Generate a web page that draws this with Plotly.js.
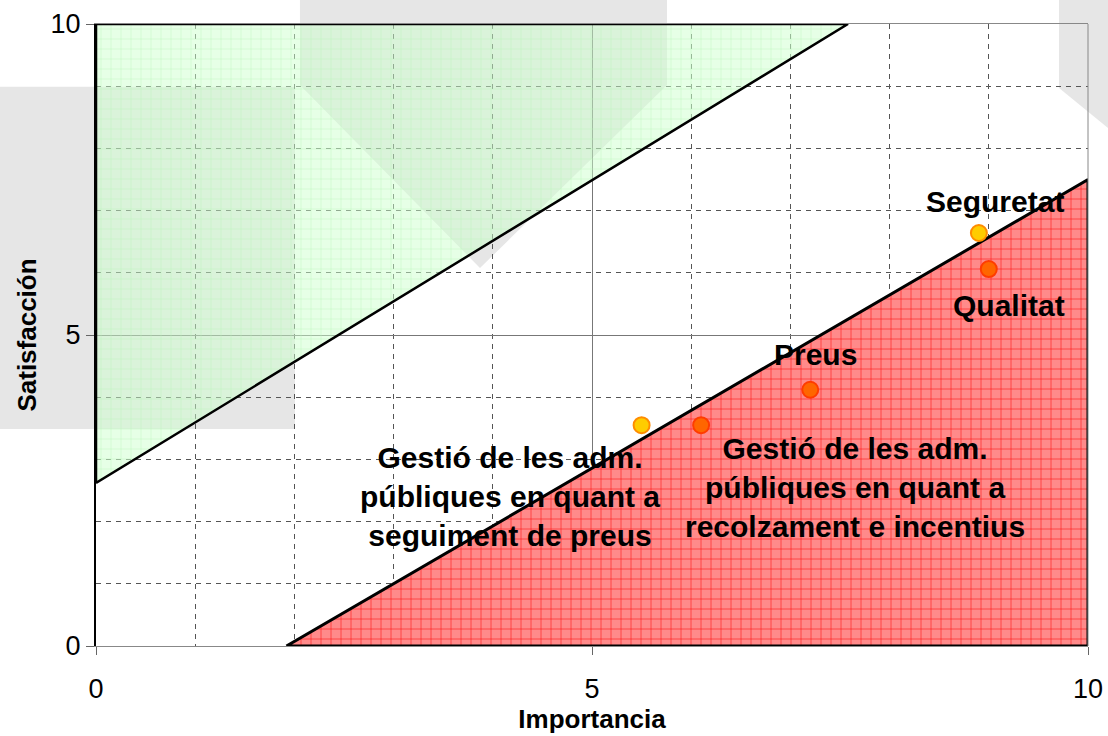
<!DOCTYPE html>
<html>
<head>
<meta charset="utf-8">
<script src="https://cdn.plot.ly/plotly-3.0.1.min.js"></script>
<style>
  html, body { margin: 0; padding: 0; background: #fff; }
  #graph { width: 1108px; height: 736px; }
</style>
</head>
<body>
<div id="graph"></div>
<script>
// items: importance (x) vs satisfaction (y)
var etiquetes = ['Gestió de les adm.<br>públiques en quant a<br>seguiment de preus',
                 'Gestió de les adm.<br>públiques en quant a<br>recolzament e incentius',
                 'Preus', 'Seguretat', 'Qualitat'];
var importancia = [5.5, 6.1, 7.2, 8.9, 9.0];
var satisfaccio = [3.55, 3.55, 4.12, 6.64, 6.06];
var colorsPunt = ['#ffcc00', '#ff6600', '#ff6600', '#ffcc00', '#ff6600'];
var vorePunt   = ['#ff8c00', '#ff3c00', '#ff3c00', '#ff8c00', '#ff3c00'];

// label anchor positions (text centre) for each item
var etiquetaX = [4.17, 7.65, 7.25, 9.06, 9.2];
var etiquetaY = [2.4, 2.55, 4.68, 7.15, 5.48];

// zones
var zonaVerdaX = [0, 0, 7.58, 0];
var zonaVerdaY = [2.62, 10, 10, 2.62];
var zonaVermellaX = [1.92, 10, 10, 1.92];
var zonaVermellaY = [0, 7.5, 0, 0];

var verda = {
  x: zonaVerdaX, y: zonaVerdaY,
  type: 'scatter', mode: 'lines',
  fill: 'toself',
  fillcolor: 'rgba(195,255,195,0.55)',
  fillpattern: { shape: '+', size: 10, solidity: 0.08, fgcolor: 'rgba(175,245,175,0.9)', bgcolor: 'rgba(205,255,205,0.5)' },
  line: { color: '#000', width: 2.5 },
  hoverinfo: 'skip'
};

var vermella = {
  x: zonaVermellaX, y: zonaVermellaY,
  type: 'scatter', mode: 'lines',
  fill: 'toself',
  fillcolor: '#ff8c8c',
  fillpattern: { shape: '+', size: 10, solidity: 0.12, fgcolor: '#ff1a1a', bgcolor: '#ff8a8a' },
  line: { color: '#000', width: 3 },
  hoverinfo: 'skip'
};

var punts = {
  x: importancia, y: satisfaccio,
  type: 'scatter', mode: 'markers',
  marker: { size: 16, color: colorsPunt, line: { color: vorePunt, width: 2 } },
  text: etiquetes,
  hoverinfo: 'text'
};

var anotacions = [];
for (var i = 0; i < etiquetes.length; i++) {
  anotacions.push({
    x: etiquetaX[i], y: etiquetaY[i], xref: 'x', yref: 'y',
    text: '<b>' + etiquetes[i] + '</b>',
    showarrow: false,
    align: 'center',
    font: { family: 'Liberation Sans, Arial', size: 30, color: '#000' }
  });
}

var gris = '#e6e6e6';
var layout = {
  width: 1108, height: 736,
  margin: { l: 96, r: 20, t: 24, b: 90 },
  paper_bgcolor: '#fff',
  plot_bgcolor: 'rgba(0,0,0,0)',
  showlegend: false,
  font: { family: 'Liberation Sans, Arial', color: '#000' },
  xaxis: {
    range: [0, 10], tickvals: [0, 5, 10], ticks: 'outside', ticklen: 8, tickcolor: '#666',
    tickfont: { size: 27 }, ticklabelstandoff: 11,
    showgrid: true, gridcolor: '#777', gridwidth: 1,
    minor: { dtick: 1, showgrid: true, gridcolor: '#555', griddash: '5px,5px', gridwidth: 1 },
    zeroline: false, showline: true, linecolor: '#888', linewidth: 1, mirror: true,
    title: { text: '<b>Importancia</b>', font: { size: 26 }, standoff: 1 }
  },
  yaxis: {
    range: [0, 10], tickvals: [0, 5, 10], ticks: 'outside', ticklen: 8, tickcolor: '#666',
    tickfont: { size: 27 },
    showgrid: true, gridcolor: '#777', gridwidth: 1,
    minor: { dtick: 1, showgrid: true, gridcolor: '#555', griddash: '5px,5px', gridwidth: 1 },
    zeroline: false, showline: true, linecolor: '#000', linewidth: 2,
    title: { text: '<b>Satisfacción</b>', font: { size: 26 }, standoff: 6 }
  },
  shapes: [
    // background watermark
    { type: 'rect', xref: 'paper', yref: 'paper', x0: -0.1, x1: 0.2006, y0: 0.349, y1: 0.899,
      fillcolor: gris, line: { width: 0 }, layer: 'below' },
    { type: 'path', xref: 'paper', yref: 'paper',
      path: 'M 0.2056 1.04 L 0.5756 1.04 L 0.5756 0.902 L 0.3871 0.6077 L 0.2056 0.902 Z',
      fillcolor: gris, line: { width: 0 }, layer: 'below' },
    { type: 'path', xref: 'paper', yref: 'paper',
      path: 'M 0.9708 1.04 L 1.03 1.04 L 1.03 0.8328 L 1.0202 0.8328 L 0.9708 0.8971 Z',
      fillcolor: gris, line: { width: 0 }, layer: 'below' },
    // right frame edge
    { type: 'line', xref: 'paper', yref: 'paper', x0: 1, x1: 1, y0: 0, y1: 1,
      line: { color: '#888', width: 1 } }
  ],
  annotations: anotacions
};

Plotly.newPlot('graph', [verda, vermella, punts], layout, { displayModeBar: false, staticPlot: true });
</script>
</body>
</html>
